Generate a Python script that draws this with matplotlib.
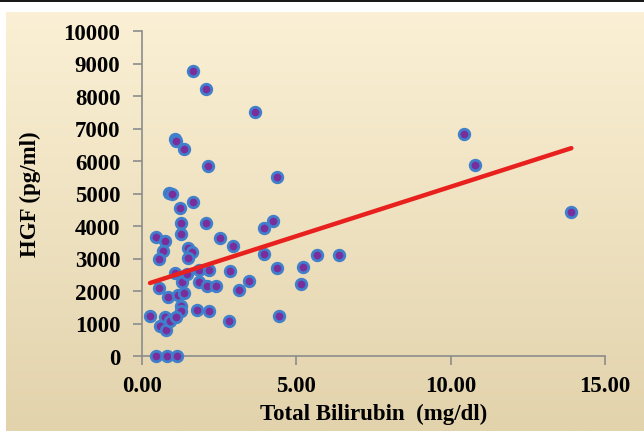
import numpy as np
import matplotlib
matplotlib.use("Agg")
import matplotlib.pyplot as plt

# ---- data ----
bilirubin = [1.66, 2.07, 3.65, 1.07, 1.09, 1.37, 2.13, 0.88, 0.98, 1.64,
             1.23, 1.26, 2.07, 1.26, 0.45, 0.75, 2.53, 1.48, 1.61, 0.67,
             0.56, 1.48, 1.07, 1.86, 2.18, 0.55, 1.29, 1.86, 2.10, 2.40,
             0.83, 1.18, 1.37, 1.26, 1.26, 1.77, 2.17, 0.26, 0.75, 0.58,
             0.78, 0.91, 1.09, 2.82, 0.44, 0.80, 1.14, 4.25, 3.96, 4.36,
             2.94, 3.96, 5.66, 6.38, 2.85, 4.36, 5.23, 3.47, 3.15, 5.16,
             4.45, 10.44, 10.78, 13.91, 1.47]
hgf = [8760, 8206, 7517, 6677, 6615, 6379, 5855, 5015, 4994, 4748,
       4554, 4083, 4092, 3754, 3671, 3548, 3631, 3323, 3209, 3222,
       2985, 3006, 2554, 2646, 2646, 2092, 2286, 2286, 2163, 2145,
       1825, 1877, 1939, 1548, 1375, 1425, 1375, 1222, 1209, 932,
       800, 1086, 1191, 1086, 0, 0, 0, 4145, 3929, 5517,
       3394, 3139, 3108, 3108, 2606, 2699, 2729, 2299, 2040, 2225,
       1222, 6822, 5868, 4440, 2523]
trend_slope = 304.0
trend_intercept = 2167.0

x_ticks = [0, 5, 10, 15]
x_tick_labels = ["0.00", "5.00", "10.00", "15.00"]
y_ticks = list(range(0, 10001, 1000))
y_tick_labels = [str(v) for v in y_ticks]

# ---- figure ----
W, H = 644, 435
fig = plt.figure(figsize=(W / 100, H / 100), dpi=100)
fig.patch.set_facecolor("white")

# gradient panel background
bg = fig.add_axes([6 / W, 1 - 432 / H, 1 - 6 / W, (432 - 13) / H], zorder=0)
top = np.array([0xFB, 0xF0, 0xD5]) / 255
bot = np.array([0xE2, 0xD3, 0xAC]) / 255
t = np.linspace(0, 1, 256)[:, None]
grad = (1 - t) * top + t * bot
bg.imshow(grad[:, None, :].repeat(2, axis=1), aspect="auto", extent=[0, 1, 0, 1])
bg.set_axis_off()

# top black rule
line_ax = fig.add_axes([0, 1 - 2.5 / H, 1, 2.5 / H], zorder=0)
line_ax.set_facecolor("#1a1a1a")
line_ax.set_xticks([]); line_ax.set_yticks([])
for s in line_ax.spines.values():
    s.set_visible(False)

ax = fig.add_axes([142 / W, 1 - 357 / H, (605 - 142) / W, (357 - 32) / H], zorder=1)
ax.patch.set_alpha(0)

ax.plot(bilirubin, hgf, linestyle="none", marker="o", markersize=7.6,
        markerfacecolor="#7A2E9C", markeredgecolor="#3F7FCB",
        markeredgewidth=2.0, zorder=3, clip_on=False)

xmin, xmax = min(bilirubin), max(bilirubin)
xs = np.array([xmin, xmax])
ax.plot(xs, trend_intercept + trend_slope * xs, color="#E8211E",
        linewidth=3.2, solid_capstyle="round", zorder=4)

ax.set_xlim(0, 15)
ax.set_ylim(0, 10000)
for side in ("top", "right"):
    ax.spines[side].set_visible(False)
for side in ("left", "bottom"):
    ax.spines[side].set_color("#8c8c8c")
    ax.spines[side].set_linewidth(1.2)

font = dict(family="Liberation Serif", weight="bold", size=16.5)
ax.set_xticks(x_ticks)
ax.set_xticklabels(x_tick_labels, **font)
ax.set_yticks(y_ticks)
ax.set_yticklabels(y_tick_labels, **font)
ax.tick_params(axis="both", direction="out", color="#8c8c8c", width=1.2,
               length=6.5, labelcolor="black")
ax.tick_params(axis="y", pad=9)
ax.tick_params(axis="x", pad=7)

ax.set_xlabel("Total Bilirubin  (mg/dl)", labelpad=5, **font)
ax.set_ylabel("HGF (pg/ml)", labelpad=16, **font)

fig.savefig("out.png", dpi=100)
